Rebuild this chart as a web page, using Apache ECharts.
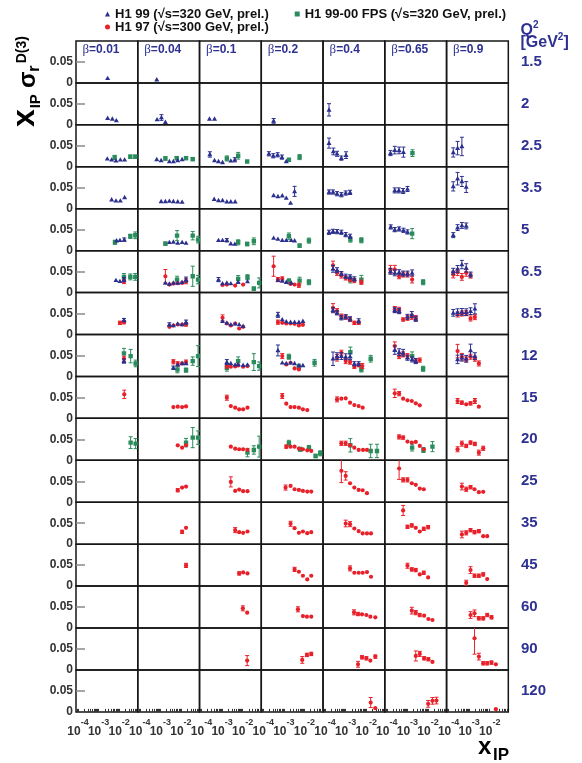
<!DOCTYPE html>
<html><head><meta charset="utf-8">
<script src="https://cdn.jsdelivr.net/npm/echarts@6/dist/echarts.min.js"></script>
<style>html,body{margin:0;padding:0;background:#fff}#c{width:582px;height:763px}</style>
</head><body><div id="c"></div>
<script>
// ---------- categories & ticks ----------
const betas = ['0.01','0.04','0.1','0.2','0.4','0.65','0.9'];
const q2s = ['1.5','2','2.5','3.5','5','6.5','8.5','12','15','20','25','35','45','60','90','120'];
const xTicks = [1e-4, 1e-3, 1e-2];
const xTickLabels = ['-4','-3','-2'];
const yTicks = [0, 0.05];
const yTickLabels = ['0','0.05'];

// ---------- data: [betaIndex, q2Index, xIP, xIP*sigma_r, error] ----------
const h1_99 = [
[0,0,2.75e-3,0.011,0.0015],[1,0,6.7e-4,0.008,0.0015],
[0,1,2.75e-3,0.016,0.0015],[0,1,4.65e-3,0.0143,0.0015],[0,1,7.26e-3,0.0103,0.0015],
[1,1,6.95e-4,0.0127,0.0015],[1,1,1.13e-3,0.0175,0.0068],[1,1,1.76e-3,0.0064,0.0015],
[2,1,2.44e-4,0.0143,0.0015],[2,1,4.28e-4,0.0143,0.0015],
[3,1,3.18e-4,0.0095,0.0056],[4,1,1.56e-4,0.0358,0.0147],
[0,2,2.65e-3,0.019,0.002],[0,2,4.31e-3,0.0167,0.002],[0,2,7.0e-3,0.0143,0.002],[0,2,1.14e-2,0.0167,0.002],[0,2,1.84e-2,0.0167,0.002],
[1,2,6.68e-4,0.0175,0.002],[1,2,1.09e-3,0.0151,0.002],[1,2,2.75e-3,0.0127,0.002],[1,2,4.31e-3,0.0127,0.002],[1,2,7.0e-3,0.0151,0.002],[1,2,1.14e-2,0.0175,0.002],
[2,2,2.54e-4,0.0294,0.0064],[2,2,4.28e-4,0.0151,0.002],[2,2,6.68e-4,0.0127,0.002],[2,2,1.05e-3,0.0103,0.002],[2,2,2.65e-3,0.0143,0.002],[2,2,4.15e-3,0.0167,0.005],
[3,2,1.88e-4,0.031,0.005],[3,2,3.06e-4,0.0263,0.005],[3,2,4.97e-4,0.0286,0.005],[3,2,8.05e-4,0.0231,0.005],[3,2,1.31e-3,0.0127,0.002],
[4,2,1.56e-4,0.0565,0.012],[4,2,2.54e-4,0.0366,0.008],[4,2,3.83e-4,0.031,0.006],[4,2,6.21e-4,0.0207,0.005],[4,2,1.05e-3,0.0278,0.008],
[5,2,1.51e-4,0.0326,0.006],[5,2,2.44e-4,0.0398,0.009],[5,2,3.97e-4,0.039,0.008],[5,2,6.44e-4,0.035,0.012],
[6,2,1.69e-4,0.0342,0.011],[6,2,2.74e-4,0.0446,0.016],[6,2,4.44e-4,0.0485,0.022],
[0,3,4.31e-3,0.0215,0.002],[0,3,7.0e-3,0.019,0.002],[0,3,1.14e-2,0.019,0.002],[0,3,1.84e-2,0.027,0.002],
[1,3,1.09e-3,0.0175,0.0015],[1,3,1.76e-3,0.0175,0.0015],[1,3,2.75e-3,0.0183,0.0015],[1,3,4.31e-3,0.0175,0.0015],[1,3,7.0e-3,0.0167,0.0015],[1,3,1.14e-2,0.016,0.0015],
[2,3,4.12e-4,0.023,0.0015],[2,3,6.68e-4,0.0199,0.0015],[2,3,1.05e-3,0.0199,0.0015],[2,3,1.70e-3,0.0167,0.0015],[2,3,2.65e-3,0.0167,0.0015],[2,3,4.31e-3,0.0167,0.0015],
[3,3,3.18e-4,0.0318,0.002],[3,3,5.15e-4,0.0294,0.002],[3,3,8.36e-4,0.031,0.002],[3,3,1.31e-3,0.0255,0.002],[3,3,2.12e-3,0.0135,0.002],[3,3,3.32e-3,0.0414,0.012],
[4,3,1.56e-4,0.0398,0.005],[4,3,2.44e-4,0.0398,0.005],[4,3,3.83e-4,0.0358,0.005],[4,3,6.21e-4,0.0334,0.005],[4,3,1.01e-3,0.0374,0.005],[4,3,1.64e-3,0.039,0.005],
[5,3,2.44e-4,0.0437,0.006],[5,3,3.83e-4,0.0437,0.006],[5,3,6.21e-4,0.0422,0.006],[5,3,1.01e-3,0.047,0.006],
[6,3,1.69e-4,0.0533,0.011],[6,3,2.74e-4,0.0716,0.015],[6,3,4.44e-4,0.065,0.012],[6,3,7.21e-4,0.0517,0.013],
[0,4,7.53e-3,0.0239,0.002],[0,4,1.09e-2,0.0247,0.002],[0,4,1.77e-2,0.0263,0.004],
[1,4,2.75e-3,0.0199,0.002],[1,4,4.31e-3,0.0207,0.002],[1,4,7.0e-3,0.0183,0.002],[1,4,1.14e-2,0.0199,0.002],[1,4,1.77e-2,0.0183,0.002],
[2,4,6.68e-4,0.0247,0.002],[2,4,1.05e-3,0.0247,0.002],[2,4,1.70e-3,0.0247,0.004],[2,4,2.65e-3,0.0167,0.002],[2,4,4.15e-3,0.0159,0.002],
[3,4,3.18e-4,0.0302,0.002],[3,4,5.15e-4,0.0278,0.002],[3,4,8.36e-4,0.0247,0.002],[3,4,1.31e-3,0.0247,0.002],[3,4,2.29e-3,0.0247,0.002],[3,4,3.32e-3,0.0239,0.002],
[4,4,1.56e-4,0.0438,0.005],[4,4,2.44e-4,0.0461,0.005],[4,4,3.83e-4,0.0453,0.005],[4,4,6.21e-4,0.0438,0.005],[4,4,1.01e-3,0.0382,0.005],[4,4,1.64e-3,0.0342,0.005],
[5,4,1.56e-4,0.0565,0.005],[5,4,2.44e-4,0.0501,0.005],[5,4,3.97e-4,0.0517,0.005],[5,4,6.44e-4,0.0485,0.005],[5,4,1.01e-3,0.0446,0.005],
[6,4,1.69e-4,0.037,0.006],[6,4,2.74e-4,0.055,0.007],[6,4,4.44e-4,0.06,0.007],[6,4,7.21e-4,0.059,0.007],
[0,5,7.0e-3,0.0294,0.002],[0,5,1.09e-2,0.027,0.002],[0,5,1.71e-2,0.031,0.005],
[1,5,1.76e-3,0.0231,0.002],[1,5,2.75e-3,0.0207,0.002],[1,5,4.31e-3,0.0231,0.002],[1,5,7.0e-3,0.0231,0.002],[1,5,1.14e-2,0.0247,0.002],[1,5,1.77e-2,0.031,0.006],
[2,5,6.68e-4,0.031,0.005],[2,5,1.05e-3,0.0215,0.002],[2,5,1.70e-3,0.0231,0.002],[2,5,2.65e-3,0.0215,0.002],[2,5,6.03e-3,0.0247,0.003],[2,5,1.71e-2,0.0263,0.002],
[3,5,5.15e-4,0.0294,0.003],[3,5,8.36e-4,0.0278,0.003],[3,5,1.31e-3,0.0247,0.003],[3,5,2.29e-3,0.0231,0.003],
[4,5,2.44e-4,0.0565,0.008],[4,5,3.83e-4,0.0533,0.006],[4,5,6.21e-4,0.0453,0.005],[4,5,1.01e-3,0.039,0.005],[4,5,1.64e-3,0.0374,0.005],[4,5,2.65e-3,0.0326,0.005],
[5,5,1.51e-4,0.0509,0.007],[5,5,2.44e-4,0.047,0.007],[5,5,3.97e-4,0.0485,0.006],[5,5,6.21e-4,0.0453,0.006],[5,5,1.01e-3,0.0453,0.006],[5,5,1.70e-3,0.047,0.007],
[6,5,1.69e-4,0.0509,0.007],[6,5,2.74e-4,0.0565,0.008],[6,5,4.44e-4,0.0668,0.01],[6,5,7.21e-4,0.0589,0.01],[6,5,1.17e-3,0.043,0.006],
[0,6,1.71e-2,0.0342,0.004],
[1,6,2.75e-3,0.0239,0.004],[1,6,4.31e-3,0.0215,0.002],[1,6,7.0e-3,0.0255,0.002],[1,6,1.14e-2,0.0239,0.002],[1,6,1.77e-2,0.0294,0.005],
[2,6,1.05e-3,0.0318,0.003],[2,6,1.70e-3,0.0278,0.002],[2,6,2.65e-3,0.0239,0.002],[2,6,4.31e-3,0.0255,0.002],[2,6,6.75e-3,0.0239,0.002],[2,6,1.05e-2,0.0199,0.002],
[3,6,5.15e-4,0.0469,0.006],[3,6,8.36e-4,0.0358,0.003],[3,6,1.31e-3,0.031,0.002],[3,6,2.12e-3,0.0294,0.002],[3,6,3.32e-3,0.0294,0.002],[3,6,5.38e-3,0.0294,0.002],[3,6,8.43e-3,0.0318,0.003],
[4,6,2.44e-4,0.058,0.006],[4,6,3.83e-4,0.0517,0.005],[4,6,6.21e-4,0.0398,0.005],[4,6,1.01e-3,0.0422,0.005],[4,6,1.64e-3,0.0374,0.005],[4,6,4.31e-3,0.0326,0.005],
[5,6,2.44e-4,0.058,0.006],[5,6,3.97e-4,0.0557,0.006],[5,6,1.01e-3,0.0422,0.006],[5,6,1.64e-3,0.0477,0.007],[5,6,2.56e-3,0.0374,0.006],
[6,6,1.69e-4,0.0517,0.008],[6,6,2.74e-4,0.0533,0.008],[6,6,4.44e-4,0.0541,0.008],[6,6,7.21e-4,0.0533,0.008],[6,6,1.17e-3,0.0557,0.008],[6,6,1.90e-3,0.0613,0.012],
[0,7,1.71e-2,0.0366,0.005],
[1,7,4.31e-3,0.0207,0.004],[1,7,7.0e-3,0.0278,0.003],[1,7,1.14e-2,0.031,0.003],[1,7,1.77e-2,0.031,0.003],
[2,7,1.70e-3,0.0342,0.006],[2,7,2.65e-3,0.031,0.003],[2,7,4.31e-3,0.0278,0.003],[2,7,6.03e-3,0.0286,0.003],[2,7,1.05e-2,0.027,0.003],[2,7,1.71e-2,0.0278,0.003],
[3,7,5.15e-4,0.062,0.013],[3,7,8.36e-4,0.0326,0.003],[3,7,1.31e-3,0.031,0.003],[3,7,2.12e-3,0.0326,0.003],[3,7,3.32e-3,0.031,0.003],[3,7,5.38e-3,0.0263,0.003],[3,7,8.43e-3,0.0263,0.003],
[4,7,2.44e-4,0.0422,0.016],[4,7,3.83e-4,0.0485,0.008],[4,7,6.21e-4,0.0485,0.008],[4,7,1.01e-3,0.047,0.007],[4,7,1.64e-3,0.047,0.007],[4,7,2.65e-3,0.0302,0.005],[4,7,4.31e-3,0.0302,0.005],
[5,7,2.44e-4,0.0628,0.01],[5,7,3.97e-4,0.058,0.008],[5,7,6.21e-4,0.0565,0.008],[5,7,1.01e-3,0.0446,0.006],[5,7,1.70e-3,0.0406,0.006],[5,7,2.56e-3,0.0366,0.006],
[6,7,2.74e-4,0.0406,0.01],[6,7,4.44e-4,0.0446,0.008],[6,7,7.21e-4,0.0422,0.008],[6,7,1.17e-3,0.062,0.015],[6,7,1.90e-3,0.0485,0.008]
];

const h1_97 = [
[0,5,1.71e-2,0.0263,0.005],
[1,5,1.76e-3,0.039,0.016],[1,5,2.75e-3,0.0191,0.002],[1,5,4.31e-3,0.0215,0.002],[1,5,7.0e-3,0.0223,0.002],[1,5,1.14e-2,0.0231,0.002],[1,5,1.77e-2,0.027,0.006],
[2,5,1.05e-3,0.0183,0.002],[2,5,1.70e-3,0.0191,0.002],[2,5,4.31e-3,0.0167,0.002],[2,5,1.05e-2,0.0191,0.002],
[3,5,3.18e-4,0.0628,0.024],[3,5,5.15e-4,0.031,0.005],[3,5,8.36e-4,0.0326,0.005],[3,5,2.12e-3,0.0207,0.002],[3,5,3.32e-3,0.0191,0.002],[3,5,5.38e-3,0.0175,0.005],
[4,5,2.44e-4,0.065,0.01],[4,5,3.83e-4,0.047,0.006],[4,5,6.21e-4,0.0406,0.006],[4,5,1.01e-3,0.035,0.005],[4,5,1.64e-3,0.031,0.005],[4,5,2.65e-3,0.0286,0.005],[4,5,5.81e-3,0.0247,0.005],
[5,5,1.51e-4,0.0549,0.01],[5,5,2.44e-4,0.0549,0.01],[5,5,3.97e-4,0.039,0.006],[5,5,6.21e-4,0.043,0.006],[5,5,1.01e-3,0.043,0.006],[5,5,1.70e-3,0.031,0.008],
[6,5,1.69e-4,0.043,0.008],[6,5,2.74e-4,0.0485,0.008],[6,5,4.44e-4,0.0374,0.008],[6,5,7.21e-4,0.047,0.008],[6,5,1.17e-3,0.0406,0.006],
[0,6,1.09e-2,0.0278,0.004],[0,6,1.71e-2,0.0294,0.004],
[1,6,2.75e-3,0.0183,0.002],[1,6,4.31e-3,0.0215,0.002],[1,6,7.0e-3,0.0239,0.002],[1,6,1.14e-2,0.0239,0.002],[1,6,1.77e-2,0.0239,0.004],
[2,6,1.05e-3,0.0398,0.007],[2,6,1.70e-3,0.0263,0.003],[2,6,2.65e-3,0.0215,0.002],[2,6,4.31e-3,0.0263,0.002],[2,6,6.75e-3,0.0143,0.002],[2,6,1.05e-2,0.0183,0.002],
[3,6,5.15e-4,0.0294,0.005],[3,6,8.36e-4,0.0278,0.003],[3,6,1.31e-3,0.0263,0.003],[3,6,2.12e-3,0.0263,0.003],[3,6,3.32e-3,0.0255,0.003],[3,6,5.38e-3,0.0215,0.003],[3,6,8.43e-3,0.0231,0.003],
[4,6,2.44e-4,0.0636,0.01],[4,6,3.83e-4,0.0557,0.006],[4,6,6.21e-4,0.0438,0.005],[4,6,1.01e-3,0.0414,0.005],[4,6,1.64e-3,0.0358,0.005],[4,6,2.65e-3,0.0278,0.004],[4,6,4.31e-3,0.0278,0.004],
[5,6,2.44e-4,0.0597,0.007],[5,6,3.97e-4,0.058,0.007],[5,6,6.21e-4,0.0358,0.004],[5,6,1.01e-3,0.0398,0.006],[5,6,1.64e-3,0.0422,0.006],[5,6,2.56e-3,0.039,0.006],
[6,6,2.74e-4,0.0477,0.006],[6,6,4.44e-4,0.0501,0.006],[6,6,7.21e-4,0.0509,0.006],[6,6,1.17e-3,0.0382,0.006],[6,6,1.90e-3,0.0414,0.006],
[0,7,1.71e-2,0.0422,0.006],
[1,7,4.31e-3,0.035,0.005],[1,7,7.0e-3,0.0302,0.005],[1,7,1.14e-2,0.031,0.003],[1,7,1.77e-2,0.0342,0.005],
[2,7,1.70e-3,0.0247,0.005],[2,7,2.65e-3,0.0231,0.003],[2,7,4.31e-3,0.0239,0.003],[2,7,6.03e-3,0.0263,0.003],[2,7,1.05e-2,0.0231,0.003],[2,7,1.71e-2,0.0247,0.003],
[3,7,8.36e-4,0.0485,0.006],[3,7,1.31e-3,0.0286,0.003],[3,7,2.12e-3,0.0326,0.003],[3,7,3.32e-3,0.0191,0.002],[3,7,5.38e-3,0.0167,0.002],
[4,7,3.83e-4,0.0446,0.008],[4,7,6.21e-4,0.0565,0.006],[4,7,1.01e-3,0.0366,0.006],[4,7,1.64e-3,0.0342,0.005],[4,7,2.65e-3,0.0231,0.004],[4,7,4.31e-3,0.027,0.004],[4,7,6.49e-3,0.0247,0.006],
[5,7,2.44e-4,0.0724,0.01],[5,7,3.97e-4,0.0485,0.006],[5,7,6.21e-4,0.0525,0.006],[5,7,1.01e-3,0.0485,0.006],[5,7,2.56e-3,0.0366,0.005],[5,7,4.0e-3,0.039,0.005],
[6,7,2.74e-4,0.0605,0.016],[6,7,4.44e-4,0.047,0.008],[6,7,7.21e-4,0.0406,0.006],[6,7,1.17e-3,0.047,0.006],[6,7,1.90e-3,0.0422,0.006],[6,7,2.97e-3,0.031,0.006],
[0,8,1.77e-2,0.0573,0.01],
[1,8,4.31e-3,0.027,0.002],[1,8,7.0e-3,0.0278,0.002],[1,8,1.14e-2,0.027,0.002],[1,8,1.77e-2,0.0286,0.002],
[2,8,1.70e-3,0.0493,0.006],[2,8,2.65e-3,0.0294,0.002],[2,8,4.31e-3,0.0255,0.002],[2,8,6.75e-3,0.0215,0.002],[2,8,1.05e-2,0.0215,0.002],[2,8,1.71e-2,0.0255,0.002],
[3,8,8.36e-4,0.0533,0.006],[3,8,1.31e-3,0.035,0.002],[3,8,2.12e-3,0.027,0.002],[3,8,3.32e-3,0.027,0.002],[3,8,5.38e-3,0.0255,0.002],[3,8,8.43e-3,0.0215,0.002],[3,8,1.37e-2,0.0199,0.002],
[4,8,3.83e-4,0.0453,0.006],[4,8,6.21e-4,0.0469,0.003],[4,8,1.01e-3,0.0477,0.003],[4,8,1.64e-3,0.0374,0.002],[4,8,2.65e-3,0.0318,0.002],[4,8,4.31e-3,0.0294,0.002],[4,8,6.75e-3,0.0255,0.002],
[5,8,2.44e-4,0.0597,0.01],[5,8,3.97e-4,0.0589,0.005],[5,8,6.21e-4,0.0469,0.002],[5,8,1.01e-3,0.043,0.002],[5,8,1.64e-3,0.0414,0.002],[5,8,2.56e-3,0.0358,0.002],[5,8,4.0e-3,0.031,0.002],
[6,8,2.74e-4,0.0414,0.006],[6,8,4.44e-4,0.0374,0.004],[6,8,7.21e-4,0.0334,0.003],[6,8,1.17e-3,0.0358,0.004],[6,8,1.90e-3,0.0414,0.006],[6,8,2.97e-3,0.0278,0.002],
[1,9,7.0e-3,0.0358,0.002],[1,9,1.14e-2,0.0302,0.002],[1,9,1.77e-2,0.0358,0.002],
[2,9,2.65e-3,0.0326,0.002],[2,9,4.31e-3,0.0278,0.002],[2,9,6.75e-3,0.0263,0.002],[2,9,1.05e-2,0.0263,0.002],[2,9,1.71e-2,0.0247,0.002],
[3,9,1.31e-3,0.0326,0.004],[3,9,2.12e-3,0.0326,0.002],[3,9,3.32e-3,0.0326,0.002],[3,9,5.38e-3,0.0278,0.002],[3,9,8.43e-3,0.0263,0.002],[3,9,1.37e-2,0.0239,0.002],[3,9,2.14e-2,0.0223,0.002],
[4,9,6.21e-4,0.0406,0.005],[4,9,1.01e-3,0.0406,0.005],[4,9,1.64e-3,0.0358,0.002],[4,9,2.65e-3,0.0302,0.002],[4,9,4.31e-3,0.0247,0.002],[4,9,7.0e-3,0.0247,0.002],[4,9,1.09e-2,0.0247,0.002],
[5,9,3.97e-4,0.0557,0.005],[5,9,6.21e-4,0.0541,0.004],[5,9,1.01e-3,0.0446,0.002],[5,9,1.64e-3,0.0422,0.002],[5,9,2.56e-3,0.0438,0.002],[5,9,4.0e-3,0.0342,0.002],[5,9,6.25e-3,0.0263,0.002],
[6,9,2.74e-4,0.0263,0.006],[6,9,4.44e-4,0.0398,0.006],[6,9,7.21e-4,0.0342,0.004],[6,9,1.17e-3,0.0422,0.004],[6,9,1.90e-3,0.039,0.004],[6,9,2.97e-3,0.0183,0.006],[6,9,4.82e-3,0.0286,0.005],
[1,10,7.0e-3,0.0286,0.004],[1,10,1.14e-2,0.035,0.002],[1,10,1.77e-2,0.0374,0.002],
[2,10,2.65e-3,0.0485,0.012],[2,10,4.31e-3,0.027,0.002],[2,10,6.75e-3,0.0302,0.002],[2,10,1.05e-2,0.0263,0.002],[2,10,1.71e-2,0.0263,0.002],
[3,10,1.21e-3,0.035,0.006],[3,10,2.12e-3,0.039,0.002],[3,10,3.32e-3,0.031,0.002],[3,10,5.38e-3,0.0294,0.002],[3,10,8.43e-3,0.027,0.002],[3,10,1.37e-2,0.0255,0.002],[3,10,2.14e-2,0.0255,0.002],
[4,10,6.21e-4,0.0748,0.028],[4,10,1.01e-3,0.0628,0.01],[4,10,1.64e-3,0.0453,0.003],[4,10,2.65e-3,0.035,0.002],[4,10,4.31e-3,0.0294,0.002],[4,10,6.75e-3,0.0286,0.002],[4,10,1.09e-2,0.0215,0.002],
[5,10,3.97e-4,0.0804,0.026],[5,10,6.21e-4,0.0533,0.005],[5,10,1.01e-3,0.0533,0.005],[5,10,1.64e-3,0.0453,0.003],[5,10,2.56e-3,0.0414,0.002],[5,10,4.0e-3,0.0326,0.002],[5,10,6.25e-3,0.031,0.002],
[6,10,4.44e-4,0.0374,0.008],[6,10,7.21e-4,0.031,0.005],[6,10,1.17e-3,0.0358,0.004],[6,10,1.83e-3,0.031,0.002],[6,10,2.97e-3,0.0239,0.002],[6,10,4.82e-3,0.0247,0.002],
[1,11,1.14e-2,0.0294,0.004],[1,11,1.77e-2,0.039,0.003],
[2,11,4.31e-3,0.0334,0.006],[2,11,6.75e-3,0.0286,0.002],[2,11,1.05e-2,0.027,0.002],[2,11,1.71e-2,0.0302,0.002],
[3,11,2.12e-3,0.0485,0.006],[3,11,3.32e-3,0.0382,0.002],[3,11,5.38e-3,0.027,0.002],[3,11,8.43e-3,0.0302,0.002],[3,11,1.37e-2,0.0263,0.002],[3,11,2.14e-2,0.0286,0.002],
[4,11,1.01e-3,0.0493,0.008],[4,11,1.64e-3,0.0477,0.006],[4,11,2.65e-3,0.0374,0.002],[4,11,4.31e-3,0.031,0.002],[4,11,6.75e-3,0.0255,0.002],[4,11,1.09e-2,0.0255,0.002],[4,11,1.71e-2,0.0255,0.002],
[5,11,6.21e-4,0.0804,0.012],[5,11,1.01e-3,0.0414,0.004],[5,11,1.64e-3,0.0446,0.004],[5,11,2.56e-3,0.039,0.002],[5,11,4.0e-3,0.0302,0.002],[5,11,6.25e-3,0.0366,0.004],[5,11,1.02e-2,0.0406,0.004],
[6,11,4.44e-4,0.0231,0.008],[6,11,7.21e-4,0.027,0.005],[6,11,1.17e-3,0.0334,0.004],[6,11,1.83e-3,0.0286,0.004],[6,11,2.97e-3,0.031,0.004],[6,11,4.82e-3,0.0191,0.002],[6,11,7.53e-3,0.0191,0.002],
[1,12,1.77e-2,0.0493,0.005],
[2,12,6.75e-3,0.0302,0.004],[2,12,1.05e-2,0.0326,0.003],[2,12,1.71e-2,0.0302,0.003],
[3,12,3.32e-3,0.0398,0.005],[3,12,5.38e-3,0.0342,0.002],[3,12,8.43e-3,0.0247,0.002],[3,12,1.37e-2,0.0159,0.002],[3,12,2.14e-2,0.0247,0.002],
[4,12,1.64e-3,0.0422,0.006],[4,12,2.65e-3,0.0318,0.002],[4,12,4.31e-3,0.0318,0.002],[4,12,6.75e-3,0.0318,0.002],[4,12,1.09e-2,0.0334,0.002],[4,12,1.71e-2,0.0223,0.002],
[5,12,1.01e-3,0.0485,0.006],[5,12,1.64e-3,0.0398,0.004],[5,12,2.56e-3,0.0382,0.004],[5,12,4.0e-3,0.0278,0.002],[5,12,6.25e-3,0.0318,0.004],[5,12,1.02e-2,0.0207,0.002],
[6,12,7.21e-4,0.008,0.006],[6,12,1.17e-3,0.0382,0.008],[6,12,1.83e-3,0.0247,0.004],[6,12,2.97e-3,0.0247,0.004],[6,12,4.82e-3,0.0278,0.004],[6,12,7.53e-3,0.0167,0.002],
[2,13,1.02e-2,0.0469,0.006],[2,13,1.65e-2,0.0366,0.003],
[3,13,4.82e-3,0.0446,0.006],[3,13,8.43e-3,0.0286,0.002],[3,13,1.32e-2,0.027,0.002],[3,13,2.14e-2,0.027,0.002],
[4,13,2.56e-3,0.0374,0.006],[4,13,4.0e-3,0.0334,0.004],[4,13,6.25e-3,0.0326,0.002],[4,13,1.02e-2,0.031,0.002],[4,13,1.59e-2,0.027,0.002],[4,13,2.77e-2,0.0255,0.002],
[5,13,1.64e-3,0.0414,0.008],[5,13,2.56e-3,0.0366,0.005],[5,13,4.0e-3,0.031,0.004],[5,13,6.49e-3,0.0294,0.002],[5,13,1.05e-2,0.0215,0.002],[5,13,1.65e-2,0.0191,0.002],
[6,13,1.17e-3,0.031,0.008],[6,13,1.83e-3,0.035,0.008],[6,13,2.97e-3,0.0231,0.004],[6,13,4.82e-3,0.0231,0.004],[6,13,7.53e-3,0.031,0.004],[6,13,1.22e-2,0.0255,0.004],
[2,14,1.65e-2,0.0223,0.012],
[3,14,7.82e-3,0.0239,0.008],[3,14,1.32e-2,0.0358,0.004],[3,14,2.14e-2,0.0382,0.004],
[4,14,4.0e-3,0.0135,0.007],[4,14,6.25e-3,0.0302,0.004],[4,14,1.02e-2,0.0278,0.004],[4,14,1.59e-2,0.0223,0.002],[4,14,2.77e-2,0.0318,0.004],
[5,14,2.56e-3,0.0334,0.012],[5,14,4.0e-3,0.0382,0.006],[5,14,6.49e-3,0.0278,0.004],[5,14,1.05e-2,0.0255,0.004],[5,14,1.65e-2,0.0191,0.002],
[6,14,1.83e-3,0.0756,0.038],[6,14,2.97e-3,0.0318,0.008],[6,14,4.82e-3,0.0159,0.004],[6,14,7.53e-3,0.0159,0.004],[6,14,1.22e-2,0.0175,0.004],[6,14,1.99e-2,0.0135,0.002],
[4,15,1.65e-2,0.0223,0.012],[4,15,2.77e-2,0.0088,0.003],
[5,15,1.02e-2,0.0191,0.008],[5,15,1.65e-2,0.0263,0.008],[5,15,2.58e-2,0.027,0.008],
[6,15,1.99e-2,0.0064,0.002]
];

const fps = [
[0,2,6.03e-3,0.0223,0.005],[0,2,3.48e-2,0.0239,0.004],[0,2,6.07e-2,0.0239,0.004],
[1,2,1.76e-3,0.0199,0.004],[1,2,6.25e-3,0.0207,0.004],[1,2,1.77e-2,0.0207,0.004],[1,2,3.74e-2,0.0183,0.004],
[2,2,1.70e-3,0.0199,0.006],[2,2,6.03e-3,0.0263,0.008],[2,2,1.65e-2,0.0127,0.003],
[3,2,1.76e-3,0.0167,0.003],[3,2,5.81e-3,0.0231,0.006],
[5,2,1.76e-3,0.0326,0.008],
[0,4,6.25e-3,0.0199,0.005],[0,4,3.48e-2,0.0342,0.005],[0,4,6.07e-2,0.0366,0.008],
[1,4,1.76e-3,0.0167,0.004],[1,4,6.49e-3,0.0358,0.012],[1,4,3.74e-2,0.0358,0.01],[1,4,6.79e-2,0.0263,0.008],
[2,4,6.03e-3,0.0199,0.006],[2,4,1.65e-2,0.0159,0.004],[2,4,3.48e-2,0.0223,0.008],
[3,4,1.76e-3,0.0342,0.008],[3,4,5.81e-3,0.0119,0.004],[3,4,1.65e-2,0.0239,0.006],
[4,4,1.70e-3,0.0263,0.006],[4,4,5.81e-3,0.0247,0.006],
[5,4,1.70e-3,0.0406,0.012],
[0,5,1.71e-2,0.0374,0.008],[0,5,3.48e-2,0.0374,0.007],[0,5,6.07e-2,0.0374,0.008],
[1,5,6.49e-3,0.031,0.008],[1,5,3.74e-2,0.039,0.024],[1,5,6.79e-2,0.031,0.01],
[2,5,6.03e-3,0.0326,0.008],[2,5,1.71e-2,0.0366,0.006],[2,5,3.48e-2,0.0095,0.004],[2,5,6.31e-2,0.0231,0.012],
[3,5,1.76e-3,0.027,0.006],[3,5,5.81e-3,0.0286,0.008],[3,5,1.65e-2,0.0247,0.006],
[4,5,1.70e-3,0.031,0.008],[4,5,5.81e-3,0.031,0.01],
[5,5,5.81e-3,0.0247,0.006],
[0,7,1.71e-2,0.0549,0.012],[0,7,3.61e-2,0.0485,0.016],[0,7,6.31e-2,0.031,0.008],
[1,7,6.75e-3,0.0167,0.008],[1,7,1.77e-2,0.0151,0.005],[1,7,3.74e-2,0.0366,0.01],[1,7,6.79e-2,0.0485,0.025],
[2,7,1.70e-3,0.0207,0.008],[2,7,6.03e-3,0.0366,0.01],[2,7,3.48e-2,0.0342,0.02],[2,7,6.31e-2,0.0247,0.01],
[3,7,1.76e-3,0.047,0.006],[3,7,5.38e-3,0.0231,0.006],[3,7,3.10e-2,0.0326,0.008],
[4,7,1.70e-3,0.058,0.012],[4,7,5.81e-3,0.0167,0.006],[4,7,1.65e-2,0.0422,0.008],
[5,7,1.70e-3,0.0485,0.01],[5,7,5.81e-3,0.0183,0.006],
[0,9,3.61e-2,0.0422,0.014],[0,9,6.31e-2,0.0398,0.012],
[1,9,1.77e-2,0.0422,0.01],[1,9,3.74e-2,0.0541,0.024],[1,9,6.79e-2,0.0541,0.016],
[2,9,1.71e-2,0.0183,0.01],[2,9,3.48e-2,0.0247,0.01],[2,9,6.31e-2,0.0326,0.025],
[3,9,1.76e-3,0.0406,0.007],[3,9,6.25e-3,0.0263,0.005],[3,9,1.65e-2,0.0294,0.006],[3,9,3.48e-2,0.0103,0.004],[3,9,5.85e-2,0.0167,0.006],
[4,9,1.70e-3,0.0358,0.016],[4,9,1.65e-2,0.0223,0.016],[4,9,3.34e-2,0.0223,0.016],
[5,9,1.70e-3,0.0302,0.008],[5,9,6.03e-3,0.0247,0.006],[5,9,1.65e-2,0.0326,0.012]
];

// ---------- layout & style ----------
const FONT = '"Liberation Sans", Arial, Helvetica, sans-serif';
const BLUE = '#2b2f8e', RED = '#e8202a', GREEN = '#2a8c5c', LBLUE = '#2e3192';
const L0 = 76, CW = 61.76, T0 = 41, RH = 41.93;
const NB = betas.length, NQ = q2s.length;

const minorTicks = [];
for (let e = -5; e <= -2; e++) for (let k = 1; k <= 9; k++) {
  const v = k * Math.pow(10, e);
  if (v > 8.5e-5 && v < 0.079) minorTicks.push(v);
}

function fmtX(v) {
  const lv = Math.log10(v);
  let i = 0;
  xTicks.forEach((t, j) => { if (Math.abs(Math.log10(t) - lv) < 0.05) i = j; });
  return '{b|10}{s|' + xTickLabels[i] + '}';
}
function fmtY(v) {
  let i = 0;
  yTicks.forEach((t, j) => { if (Math.abs(t - v) < 1e-6) i = j; });
  return yTickLabels[i];
}
const xRich = {
  b: {fontSize: 12, fontWeight: 'bold', fontFamily: FONT, color: '#333', lineHeight: 20, verticalAlign: 'bottom'},
  s: {fontSize: 9, fontWeight: 'bold', fontFamily: FONT, color: '#333', lineHeight: 6, verticalAlign: 'top'}
};

const grids = [], xAxes = [], yAxes = [];
for (let q = 0; q < NQ; q++) for (let b = 0; b < NB; b++) {
  const idx = q * NB + b;
  const isBottom = q === NQ - 1, isLeft = b === 0;
  grids.push({left: L0 + b * CW, top: T0 + q * RH, width: CW, height: RH, show: true,
    borderColor: '#161616', borderWidth: 1.5, backgroundColor: 'rgba(0,0,0,0)',
    containLabel: false, outerBoundsMode: 'none'});
  xAxes.push({gridIndex: idx, type: 'log', logBase: 10, min: 8e-5, max: 0.08, position: 'bottom',
    axisLine: {show: false}, splitLine: {show: false}, minorTick: {show: false},
    axisTick: {show: isBottom, inside: true, length: 3, interval: 0, customValues: minorTicks,
      lineStyle: {color: '#333', width: 1}},
    axisLabel: {show: false}});
  yAxes.push({gridIndex: idx, type: 'value', min: 0, max: 0.1,
    axisLine: {show: false}, splitLine: {show: false},
    axisTick: {show: isLeft, inside: true, length: 9, customValues: [0.05],
      lineStyle: {color: '#8a8a8a', width: 1.5}},
    axisLabel: {show: isLeft, customValues: yTicks, interval: 0, margin: 3, formatter: fmtY,
      showMinLabel: true, showMaxLabel: true,
      fontSize: 12, fontWeight: 'bold', fontFamily: FONT, color: '#333'}});
}
// one label-only axis per decade label in each bottom panel, so no label is dropped by overlap handling
for (let b = 0; b < NB; b++) {
  const idx = (NQ - 1) * NB + b;
  xTicks.forEach(t => {
    xAxes.push({gridIndex: idx, type: 'log', logBase: 10, min: 8e-5, max: 0.08, position: 'bottom',
      axisLine: {show: false}, splitLine: {show: false}, axisTick: {show: false}, minorTick: {show: false},
      axisLabel: {show: true, customValues: [t], interval: 0, margin: 6, hideOverlap: false,
        showMinLabel: true, showMaxLabel: true, formatter: fmtX, rich: xRich}});
  });
}

const sets = [
  {name: 'H1 99-00 FPS (√s=320 GeV, prel.)', data: fps, color: GREEN, shape: 'sq'},
  {name: 'H1 97 (√s=300 GeV, prel.)', data: h1_97, color: RED, shape: 'circ'},
  {name: 'H1 99 (√s=320 GeV, prel.)', data: h1_99, color: BLUE, shape: 'tri'}
];

function makeRender(color, shape) {
  return function (params, api) {
    const x = api.value(0), y = api.value(1), e = api.value(2);
    const p = api.coord([x, y]);
    const hi = api.coord([x, y + e]);
    const lo = api.coord([x, y - e]);
    const st = {stroke: color, lineWidth: 1};
    const ch = [];
    if (lo[1] - hi[1] > 3) {
      ch.push({type: 'line', shape: {x1: p[0], y1: hi[1], x2: p[0], y2: lo[1]}, style: st});
      ch.push({type: 'line', shape: {x1: p[0] - 2, y1: hi[1], x2: p[0] + 2, y2: hi[1]}, style: st});
      ch.push({type: 'line', shape: {x1: p[0] - 2, y1: lo[1], x2: p[0] + 2, y2: lo[1]}, style: st});
    }
    if (shape === 'tri') {
      ch.push({type: 'polygon', shape: {points: [[p[0], p[1] - 2.6], [p[0] - 2.5, p[1] + 1.8], [p[0] + 2.5, p[1] + 1.8]]}, style: {fill: color}});
    } else if (shape === 'circ') {
      ch.push({type: 'circle', shape: {cx: p[0], cy: p[1], r: 2.1}, style: {fill: color}});
    } else {
      ch.push({type: 'rect', shape: {x: p[0] - 2.2, y: p[1] - 2.2, width: 4.4, height: 4.4}, style: {fill: color}});
    }
    return {type: 'group', children: ch};
  };
}

const series = [];
sets.forEach(set => {
  const byPanel = {};
  set.data.forEach(d => {
    const k = d[1] * NB + d[0];
    (byPanel[k] = byPanel[k] || []).push([d[2], d[3], d[4]]);
  });
  Object.keys(byPanel).forEach(k => {
    series.push({type: 'custom', name: set.name, xAxisIndex: +k, yAxisIndex: +k,
      data: byPanel[k], encode: {x: 0, y: 1}, renderItem: makeRender(set.color, set.shape),
      itemStyle: {color: set.color}, clip: true, silent: true, animation: false});
  });
});

// ---------- text graphics ----------
const graphics = [];
betas.forEach((bt, b) => {
  graphics.push({type: 'text', x: L0 + b * CW + 6.5, y: 50, silent: true,
    style: {text: '{g|β}{t|=' + bt + '}', verticalAlign: 'middle', align: 'left',
      rich: {g: {fontFamily: '"Liberation Serif", serif', fontSize: 13, fill: LBLUE},
             t: {fontFamily: FONT, fontSize: 12, fontWeight: 'bold', fill: LBLUE}}}});
});
q2s.forEach((qv, q) => {
  graphics.push({type: 'text', x: 521, y: T0 + q * RH + RH / 2, silent: true,
    style: {text: qv, fontFamily: FONT, fontSize: 15, fontWeight: 'bold', fill: LBLUE,
      verticalAlign: 'middle', align: 'left'}});
});
const supRich = {m: {fontFamily: FONT, fontSize: 16, fontWeight: 'bold', fill: LBLUE, lineHeight: 22},
                 s: {fontFamily: FONT, fontSize: 10, fontWeight: 'bold', fill: LBLUE, lineHeight: 9, verticalAlign: 'top'}};
graphics.push({type: 'text', x: 520.5, y: 31, silent: true,
  style: {text: '{m|Q}{s|2}', rich: supRich, verticalAlign: 'middle', align: 'left'}});
graphics.push({type: 'text', x: 520.5, y: 43, silent: true,
  style: {text: '{m|[GeV}{s|2}{m|]}', rich: supRich, verticalAlign: 'middle', align: 'left'}});

const tb = (t, x, y, fs) => ({type: 'text', x: x, y: y, silent: true,
  style: {text: t, fontFamily: FONT, fontSize: fs, fontWeight: 'bold', fill: '#000', align: 'left', verticalAlign: 'middle'}});
graphics.push({type: 'group', x: 28, y: 127, rotation: Math.PI / 2, silent: true, children: [
  tb('x', 0, -3, 32), tb('IP', 18.7, 8, 15), tb('σ', 39, 0, 24), tb('r', 55.3, 6.4, 16), tb('D(3)', 63.7, -6.3, 14)
]});
graphics.push(tb('x', 478, 747, 24));
graphics.push(tb('IP', 493, 755, 17));

const chart = echarts.init(document.getElementById('c'), null, {renderer: 'canvas'});
chart.setOption({
  animation: false,
  backgroundColor: '#fff',
  legend: [
    {left: 105, top: 7.5, orient: 'horizontal', itemWidth: 5, itemHeight: 5, itemGap: 26, padding: 0,
      selectedMode: false, textStyle: {fontSize: 13, fontWeight: 'bold', fontFamily: FONT, color: '#111'},
      data: [{name: 'H1 99 (√s=320 GeV, prel.)', icon: 'triangle'}, {name: 'H1 99-00 FPS (√s=320 GeV, prel.)', icon: 'rect'}]},
    {left: 105, top: 20.5, orient: 'horizontal', itemWidth: 5, itemHeight: 5, padding: 0,
      selectedMode: false, textStyle: {fontSize: 13, fontWeight: 'bold', fontFamily: FONT, color: '#111'},
      data: [{name: 'H1 97 (√s=300 GeV, prel.)', icon: 'circle'}]}
  ],
  grid: grids, xAxis: xAxes, yAxis: yAxes, series: series, graphic: graphics
});
</script></body></html>
